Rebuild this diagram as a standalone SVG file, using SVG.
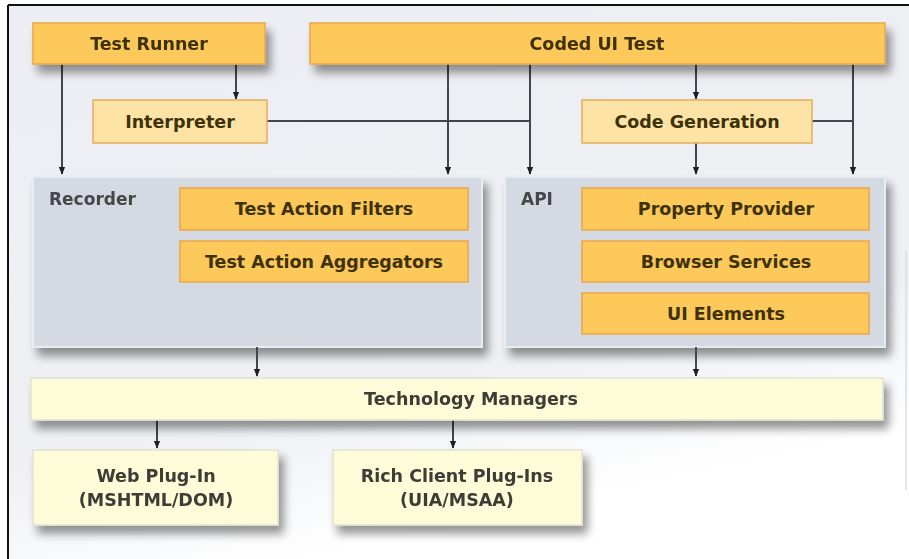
<svg xmlns="http://www.w3.org/2000/svg" width="909" height="559" viewBox="0 0 909 559">
<defs>
  <linearGradient id="bg" x1="0" y1="0" x2="0.35" y2="1">
    <stop offset="0" stop-color="#eceef3"/>
    <stop offset="0.75" stop-color="#eef0f4"/>
    <stop offset="1" stop-color="#ffffff"/>
  </linearGradient>
  <filter id="sh" x="-10%" y="-20%" width="125%" height="170%">
    <feGaussianBlur in="SourceAlpha" stdDeviation="5"/>
    <feOffset dx="5" dy="8" result="b"/>
    <feComponentTransfer><feFuncA type="linear" slope="0.42"/></feComponentTransfer>
    <feMerge><feMergeNode/><feMergeNode in="SourceGraphic"/></feMerge>
  </filter>
  <marker id="ah" viewBox="0 0 10 10" refX="9" refY="5" markerWidth="4" markerHeight="4" orient="auto">
    <path d="M0,1 L10,5 L0,9 Z" fill="#1e1e24"/>
  </marker>
</defs>
<style>
  .yel{fill:#fdc95a;stroke:#eba54a;stroke-width:1.5}
  .lyel{fill:#fde3a6;stroke:#e6ad5c;stroke-width:1.5}
  .pale{fill:#fdfbd8;stroke:#e2e2d2;stroke-width:1.5}
  .panel{fill:#d4d9e2;stroke:#e8ebf0;stroke-width:2}
  .t{font-family:"DejaVu Sans",Verdana,sans-serif;font-size:17.5px;font-weight:bold;fill:#3e3208;text-anchor:middle}
  .tg{font-family:"DejaVu Sans",Verdana,sans-serif;font-size:17.5px;font-weight:bold;fill:#3c3c34;text-anchor:middle}
  .lbl{font-family:"DejaVu Sans",Verdana,sans-serif;font-size:17px;font-weight:bold;fill:#45464c}
  .c{stroke:#454552;stroke-width:2;fill:none}
  .ca{stroke:#454552;stroke-width:2;fill:none;marker-end:url(#ah)}
</style>
<rect x="0" y="0" width="909" height="559" fill="#ffffff"/>
<rect x="8" y="5" width="901" height="554" fill="url(#bg)"/>
<line x1="8" y1="5" x2="909" y2="5" stroke="#111" stroke-width="2"/>
<line x1="8" y1="5" x2="8" y2="559" stroke="#111" stroke-width="2"/>
<line x1="906" y1="250" x2="906" y2="490" stroke="#dcdde3" stroke-width="1.5"/>

<g id="recorder" filter="url(#sh)">
  <rect class="panel" x="33" y="177" width="449" height="170"/>
  <text class="lbl" x="49" y="205">Recorder</text>
</g>
<g id="api" filter="url(#sh)">
  <rect class="panel" x="505" y="177" width="380" height="170"/>
  <text class="lbl" x="521" y="205">API</text>
</g>

<g id="connectors">
  <line class="ca" x1="62" y1="64" x2="62" y2="174"/>
  <line class="ca" x1="236" y1="64" x2="236" y2="99"/>
  <line class="ca" x1="448" y1="64" x2="448" y2="174"/>
  <line class="ca" x1="530" y1="64" x2="530" y2="174"/>
  <line class="ca" x1="696" y1="64" x2="696" y2="99"/>
  <line class="ca" x1="696" y1="143" x2="696" y2="174"/>
  <line class="ca" x1="853" y1="64" x2="853" y2="174"/>
  <line class="c" x1="267" y1="121" x2="530" y2="121"/>
  <line class="c" x1="812" y1="121" x2="853" y2="121"/>
  <line class="ca" x1="257" y1="347" x2="257" y2="376"/>
  <line class="ca" x1="696" y1="347" x2="696" y2="376"/>
  <line class="ca" x1="157" y1="420" x2="157" y2="448"/>
  <line class="ca" x1="453" y1="420" x2="453" y2="448"/>
</g>

<g id="test-runner" filter="url(#sh)">
  <rect class="yel" x="33" y="23" width="232" height="41"/>
  <text class="t" x="149" y="50">Test Runner</text>
</g>
<g id="coded-ui-test" filter="url(#sh)">
  <rect class="yel" x="310" y="23" width="575" height="41"/>
  <text class="t" x="597" y="50">Coded UI Test</text>
</g>
<g id="interpreter">
  <rect class="lyel" x="93" y="100" width="174" height="43"/>
  <text class="t" x="180" y="128">Interpreter</text>
</g>
<g id="code-generation">
  <rect class="lyel" x="582" y="100" width="230" height="43"/>
  <text class="t" x="697" y="128">Code Generation</text>
</g>
<g id="test-action-filters">
  <rect class="yel" x="180" y="188" width="288" height="42"/>
  <text class="t" x="324" y="215">Test Action Filters</text>
</g>
<g id="test-action-aggregators">
  <rect class="yel" x="180" y="241" width="288" height="41"/>
  <text class="t" x="324" y="268">Test Action Aggregators</text>
</g>
<g id="property-provider">
  <rect class="yel" x="582" y="188" width="287" height="42"/>
  <text class="t" x="726" y="215">Property Provider</text>
</g>
<g id="browser-services">
  <rect class="yel" x="582" y="241" width="287" height="41"/>
  <text class="t" x="726" y="268">Browser Services</text>
</g>
<g id="ui-elements">
  <rect class="yel" x="582" y="293" width="287" height="41"/>
  <text class="t" x="726" y="320">UI Elements</text>
</g>
<g id="technology-managers" filter="url(#sh)">
  <rect class="pale" x="31" y="378" width="852" height="42"/>
  <text class="tg" x="471" y="405">Technology Managers</text>
</g>
<g id="web-plug-in" filter="url(#sh)">
  <rect class="pale" x="33" y="450" width="245" height="75"/>
  <text class="tg" x="156" y="482">Web Plug-In</text>
  <text class="tg" x="156" y="506">(MSHTML/DOM)</text>
</g>
<g id="rich-client-plug-ins" filter="url(#sh)">
  <rect class="pale" x="333" y="450" width="249" height="75"/>
  <text class="tg" x="457" y="482">Rich Client Plug-Ins</text>
  <text class="tg" x="457" y="506">(UIA/MSAA)</text>
</g>
</svg>
